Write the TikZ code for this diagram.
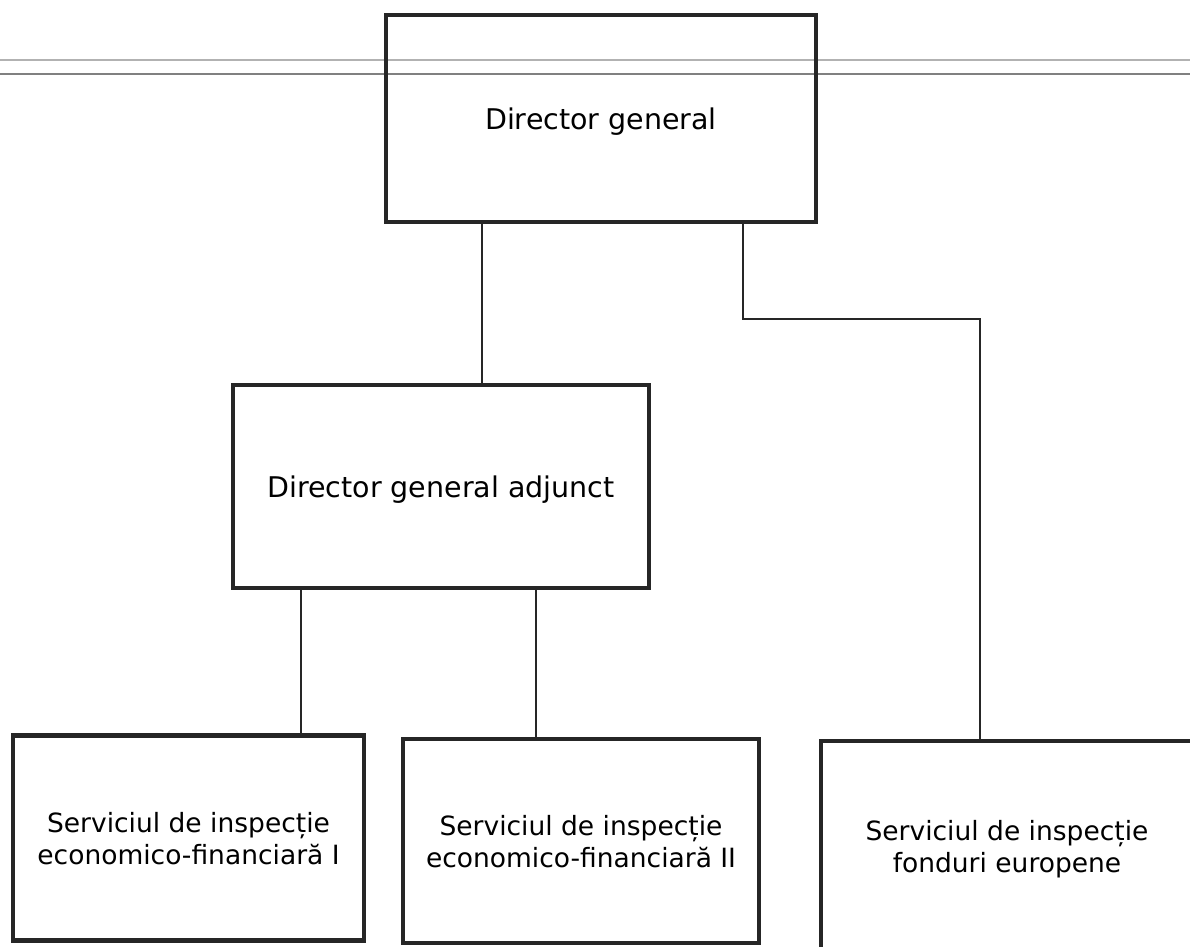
\documentclass[tikz,border=0pt]{standalone}
\usepackage{fontspec}
\setmainfont{DejaVu Sans}
\tikzset{
  box/.style={draw=black!85, line width=4.5pt, fill=none, align=center, inner sep=0pt, anchor=center, text depth=0pt},
  lbl/.style={align=center, inner sep=0pt, anchor=center, text depth=0pt},
  big/.style={font=\fontsize{28.5}{34}\selectfont},
  small/.style={font=\fontsize{26.5}{32}\selectfont},
  conn/.style={draw=black!85, line width=1.4pt},
}
\begin{document}
\begin{tikzpicture}[x=1pt,y=-1pt]
\clip (0,0) rectangle (1190,946);
\fill[white] (0,0) rectangle (1190,946);
% top double rule
\draw[black!30, line width=1.5pt] (0,60) -- (1190,60);
\draw[black!50, line width=2pt] (0,74) -- (1190,74);
% boxes
\node[box, big, minimum width=430pt, minimum height=207pt] (dg) at (601,118.5) {Director general};
\node[box, big, minimum width=416pt, minimum height=203pt] (dga) at (441,486.5) {Director general adjunct};
\node[box, small, minimum width=351pt, minimum height=205pt] (s1) at (188.5,838) {Serviciul de inspecție\\economico-financiară I};
\node[box, small, minimum width=356pt, minimum height=204pt] (s2) at (581,841) {Serviciul de inspecție\\economico-financiară II};
\node[box, minimum width=420pt, minimum height=212pt] (s3) at (1031,847) {};
\node[lbl, small] (s3t) at (1007,846) {Serviciul de inspecție\\fonduri europene};
% connector columns
\coordinate (c1) at (482,0);
\coordinate (c2) at (743,0);
\coordinate (c3) at (980,0);
\coordinate (c4) at (301,0);
\coordinate (c5) at (536,0);
\coordinate (bend) at (0,319);
\draw[conn] (dg.south -| c1) -- (dga.north -| c1);
\draw[conn] (dg.south -| c2) -- (bend -| c2) -- (bend -| c3) -- (s3.north -| c3);
\draw[conn] (dga.south -| c4) -- (s1.north -| c4);
\draw[conn] (dga.south -| c5) -- (s2.north -| c5);
\end{tikzpicture}
\end{document}
